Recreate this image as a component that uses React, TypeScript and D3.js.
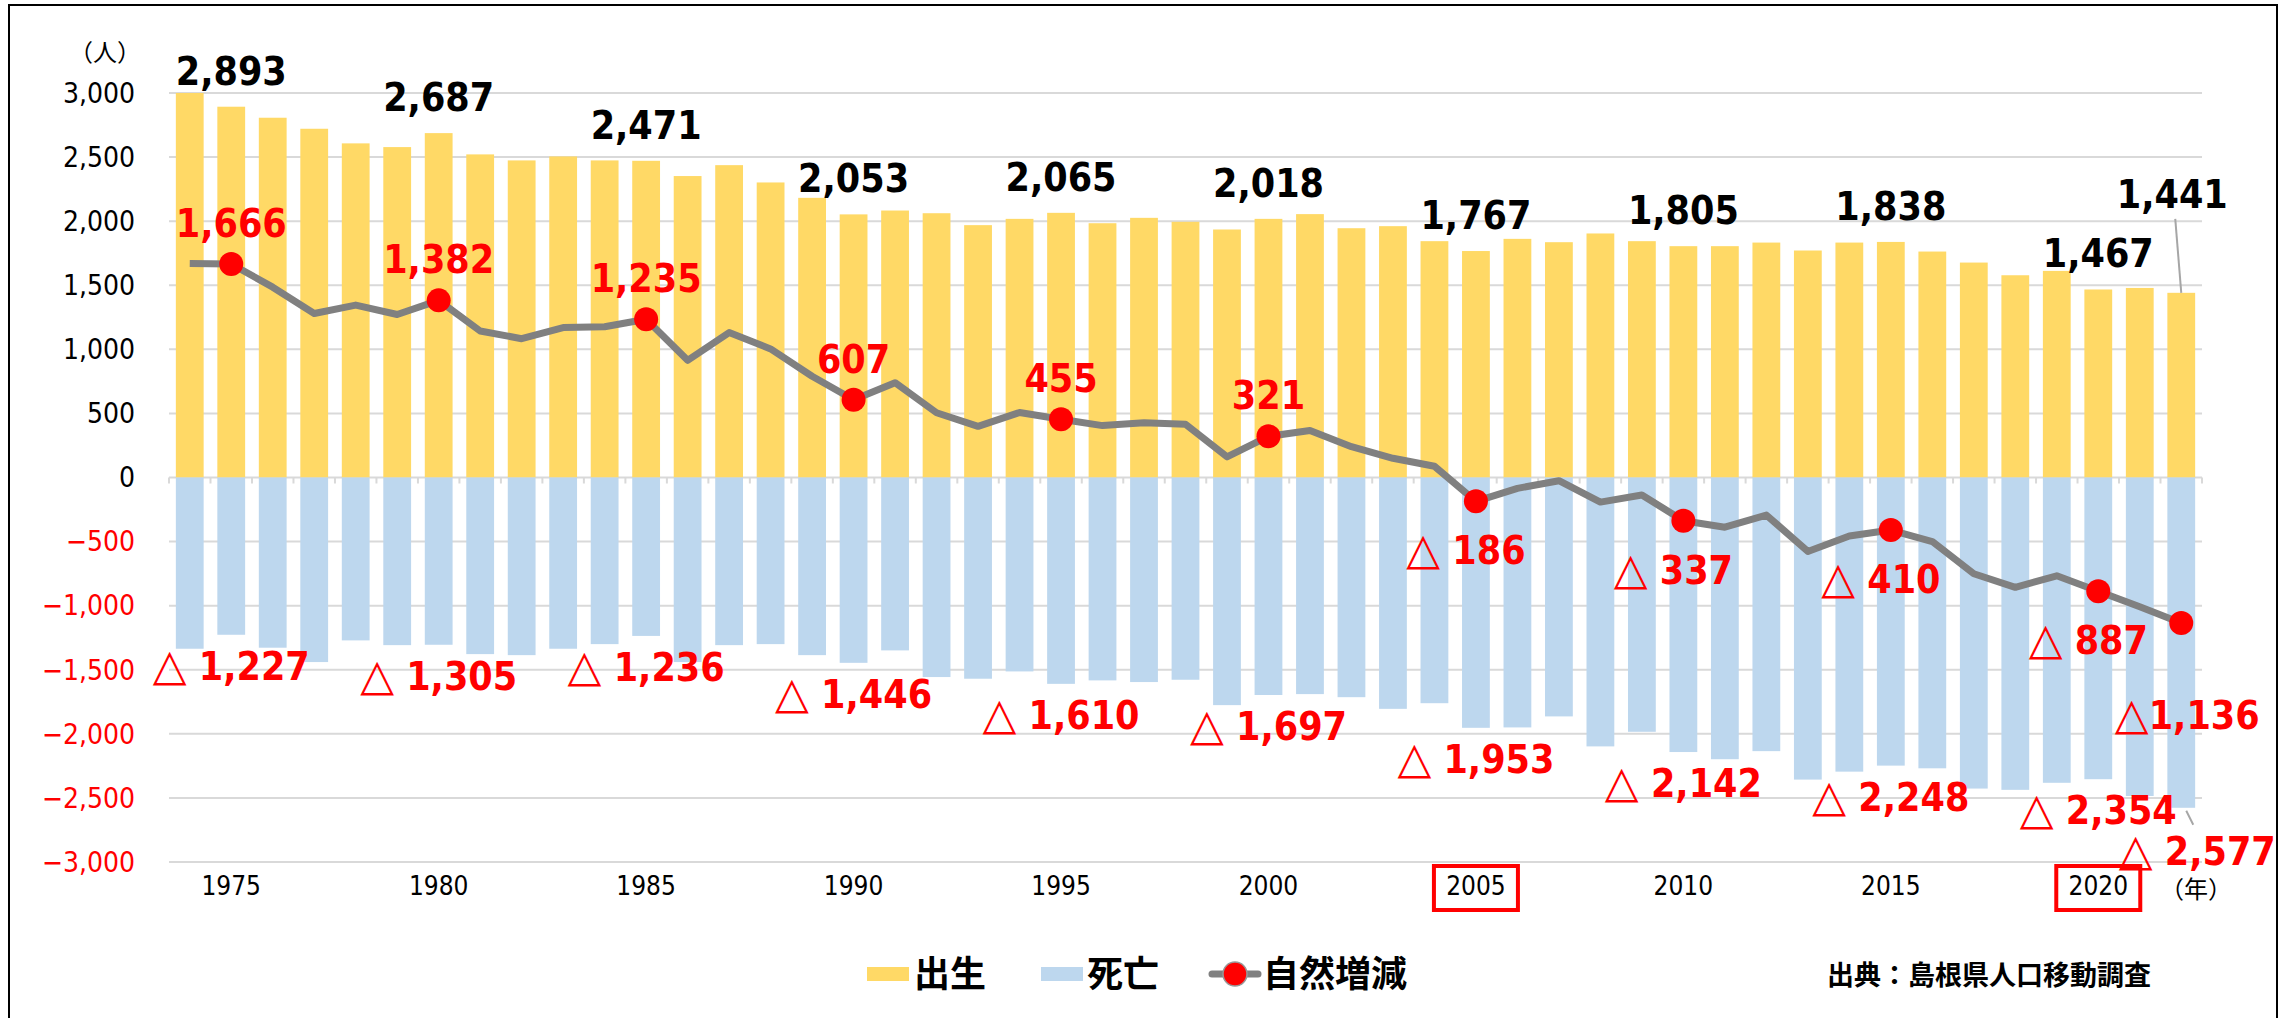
import React from 'react';
import * as d3 from 'd3';

// 島根県 出生・死亡・自然増減の推移
const years = [
  1974, 1975, 1976, 1977, 1978, 1979, 1980, 1981, 1982, 1983,
  1984, 1985, 1986, 1987, 1988, 1989, 1990, 1991, 1992, 1993,
  1994, 1995, 1996, 1997, 1998, 1999, 2000, 2001, 2002, 2003,
  2004, 2005, 2006, 2007, 2008, 2009, 2010, 2011, 2012, 2013,
  2014, 2015, 2016, 2017, 2018, 2019, 2020, 2021, 2022,
];

const births = [
  3000, 2893, 2807, 2721, 2607, 2578, 2687, 2521, 2474, 2505,
  2474, 2471, 2352, 2437, 2302, 2182, 2053, 2083, 2062, 1969,
  2018, 2065, 1984, 2026, 1995, 1935, 2018, 2055, 1945, 1961,
  1844, 1767, 1862, 1836, 1904, 1844, 1805, 1805, 1833, 1771,
  1833, 1838, 1763, 1677, 1578, 1612, 1467, 1479, 1441,
];

const deaths = [
  1336, 1227, 1328, 1440, 1271, 1308, 1305, 1378, 1386, 1336,
  1300, 1236, 1440, 1308, 1300, 1386, 1446, 1349, 1557, 1570,
  1513, 1610, 1583, 1596, 1578, 1776, 1697, 1690, 1714, 1805,
  1761, 1953, 1950, 1864, 2098, 1984, 2142, 2198, 2135, 2357,
  2295, 2248, 2269, 2427, 2437, 2382, 2354, 2485, 2577,
];

const natural = [
  1670, 1666, 1485, 1280, 1345, 1272, 1382, 1143, 1083, 1170,
  1176, 1235, 914, 1131, 1003, 790, 607, 740, 505, 399,
  507, 455, 405, 427, 415, 161, 321, 366, 240, 150,
  88, -186, -85, -25, -192, -137, -337, -388, -293, -577,
  -456, -410, -500, -751, -857, -767, -887, -1008, -1136,
];

const labelYears = [1975, 1980, 1985, 1990, 1995, 2000, 2005, 2010, 2015, 2020, 2022];
const xTickYears = [1975, 1980, 1985, 1990, 1995, 2000, 2005, 2010, 2015, 2020];
const boxedYears = [2005, 2020];
const yTicks = [-3000, -2500, -2000, -1500, -1000, -500, 0, 500, 1000, 1500, 2000, 2500, 3000];

const W = 2287, H = 1018;
const YELLOW = '#FFD966', BLUE = '#BDD7EE', RED = '#FF0000', GRAY = '#808080', GRID = '#D9D9D9';
const narrow = '"Liberation Sans Narrow", "DejaVu Sans Condensed", "Noto Sans CJK JP", sans-serif';
const cjk = '"Noto Sans CJK JP", sans-serif';
const fmt = d3.format(',');

// red "△ 1,234" style label, triangle drawn a bit larger like the original
function Minus({ x, y, value, space = true, anchor = 'middle' }: { x: number; y: number; value: number; space?: boolean; anchor?: string }) {
  return (
    <text x={x} y={y} textAnchor={anchor} fontFamily={narrow} fontWeight="bold" fontSize={39} fill={RED}>
      <tspan fontFamily='"DejaVu Sans", sans-serif' fontWeight="normal" fontSize={44}>△</tspan>
      {(space ? ' ' : '') + fmt(value)}
    </text>
  );
}

export default function App() {
  const x = d3.scaleBand<number>().domain(years).range([169, 2202]).paddingInner(0.33).paddingOuter(0.165);
  const y = d3.scaleLinear().domain([-3000, 3000]).range([862, 93]);
  const bw = x.bandwidth();
  const cx = (yr: number) => (x(yr) as number) + bw / 2;
  const gap = (x.step() - bw) / 2;
  const last = years[years.length - 1];

  const line = d3.line<number>()
    .x((_, i) => cx(years[i]))
    .y(d => y(d));

  const idx = (yr: number) => years.indexOf(yr);

  return (
    <svg width={W} height={H} style={{ position: 'absolute', left: 0, top: 0, background: '#fff' }}>
      <rect x={9} y={5} width={2268} height={H + 10} fill="#fff" stroke="#000" strokeWidth={2} />

      {/* grid */}
      {yTicks.map(t => (
        <line key={t} x1={169} x2={2202} y1={y(t)} y2={y(t)} stroke={GRID} strokeWidth={2} />
      ))}
      {/* category ticks on zero line */}
      {years.map(yr => (
        <line key={'t' + yr} x1={(x(yr) as number) - gap} x2={(x(yr) as number) - gap}
          y1={y(0)} y2={y(0) + 6} stroke={GRID} strokeWidth={2} />
      ))}
      <line x1={(x(last) as number) + bw + gap} x2={(x(last) as number) + bw + gap}
        y1={y(0)} y2={y(0) + 6} stroke={GRID} strokeWidth={2} />

      {/* y axis labels */}
      {yTicks.map(t => (
        <text key={'y' + t} x={135} y={y(t)} dy="0.35em" textAnchor="end"
          fontFamily={narrow} fontSize={28} fill={t < 0 ? RED : '#000'}>{fmt(t)}</text>
      ))}
      <text x={105} y={61} textAnchor="middle" fontFamily={cjk} fontSize={24}>（人）</text>

      {/* bars */}
      {years.map((yr, i) => (
        <g key={'b' + yr}>
          <rect x={x(yr)} y={y(births[i])} width={bw} height={y(0) - y(births[i])} fill={YELLOW} />
          <rect x={x(yr)} y={y(0)} width={bw} height={y(-deaths[i]) - y(0)} fill={BLUE} />
        </g>
      ))}

      {/* natural change line */}
      <path d={line(natural) || ''} fill="none" stroke={GRAY} strokeWidth={7} strokeLinejoin="round" />
      {labelYears.map(yr => (
        <circle key={'c' + yr} cx={cx(yr)} cy={y(natural[idx(yr)])} r={12} fill={RED} />
      ))}

      {/* birth labels */}
      {labelYears.map(yr => {
        const v = births[idx(yr)];
        const top = y(v);
        const isLast = yr === last;
        return (
          <g key={'bl' + yr}>
            {isLast && <line x1={cx(yr) - 6} y1={top - 74} x2={cx(yr)} y2={top} stroke="#A6A6A6" strokeWidth={2} />}
            <text x={isLast ? cx(yr) - 9 : cx(yr)} y={isLast ? top - 85 : top - 22} textAnchor="middle"
              fontFamily={narrow} fontWeight="bold" fontSize={39} fill="#000">{fmt(v)}</text>
          </g>
        );
      })}

      {/* natural labels */}
      {labelYears.map(yr => {
        const v = natural[idx(yr)];
        const py = y(v);
        if (v >= 0) {
          return <text key={'nl' + yr} x={cx(yr)} y={py - 27} textAnchor="middle"
            fontFamily={narrow} fontWeight="bold" fontSize={39} fill={RED}>{fmt(v)}</text>;
        }
        const isLast = yr === last;
        return <Minus key={'nl' + yr} x={isLast ? cx(yr) + 6 : cx(yr) - 10} y={isLast ? py + 106 : py + 63}
          value={-v} space={!isLast} />;
      })}

      {/* death labels */}
      {labelYears.map(yr => {
        const v = deaths[idx(yr)];
        const bottom = y(-v);
        const isLast = yr === last;
        return (
          <g key={'dl' + yr}>
            {isLast && <line x1={cx(yr) + 5} y1={bottom + 3} x2={cx(yr) + 12} y2={bottom + 17} stroke="#A6A6A6" strokeWidth={2} />}
            <Minus x={isLast ? cx(yr) + 16 : cx(yr)} y={bottom + (isLast ? 57 : 45)} value={v} />
          </g>
        );
      })}

      {/* x axis labels */}
      {xTickYears.map(yr => (
        <text key={'x' + yr} x={cx(yr)} y={895} textAnchor="middle" fontFamily={narrow} fontSize={26}>{yr}</text>
      ))}
      {boxedYears.map(yr => (
        <rect key={'bx' + yr} x={cx(yr) - 42} y={866} width={84} height={44} fill="none" stroke={RED} strokeWidth={4} />
      ))}
      <text x={2160} y={898} fontFamily={cjk} fontSize={24}>（年）</text>

      {/* legend */}
      <rect x={867} y={967} width={42} height={14} fill={YELLOW} />
      <text x={914} y={987} fontFamily={cjk} fontWeight="bold" fontSize={36}>出生</text>
      <rect x={1041} y={967} width={42} height={14} fill={BLUE} />
      <text x={1087} y={987} fontFamily={cjk} fontWeight="bold" fontSize={36}>死亡</text>
      <line x1={1212} x2={1258} y1={974} y2={974} stroke={GRAY} strokeWidth={7} strokeLinecap="round" />
      <circle cx={1235} cy={974} r={12} fill={RED} stroke="#999" strokeWidth={1.5} />
      <text x={1263} y={987} fontFamily={cjk} fontWeight="bold" fontSize={36}>自然増減</text>

      <text x={1827} y={985} fontFamily={cjk} fontWeight="bold" fontSize={27}>出典：島根県人口移動調査</text>
    </svg>
  );
}
